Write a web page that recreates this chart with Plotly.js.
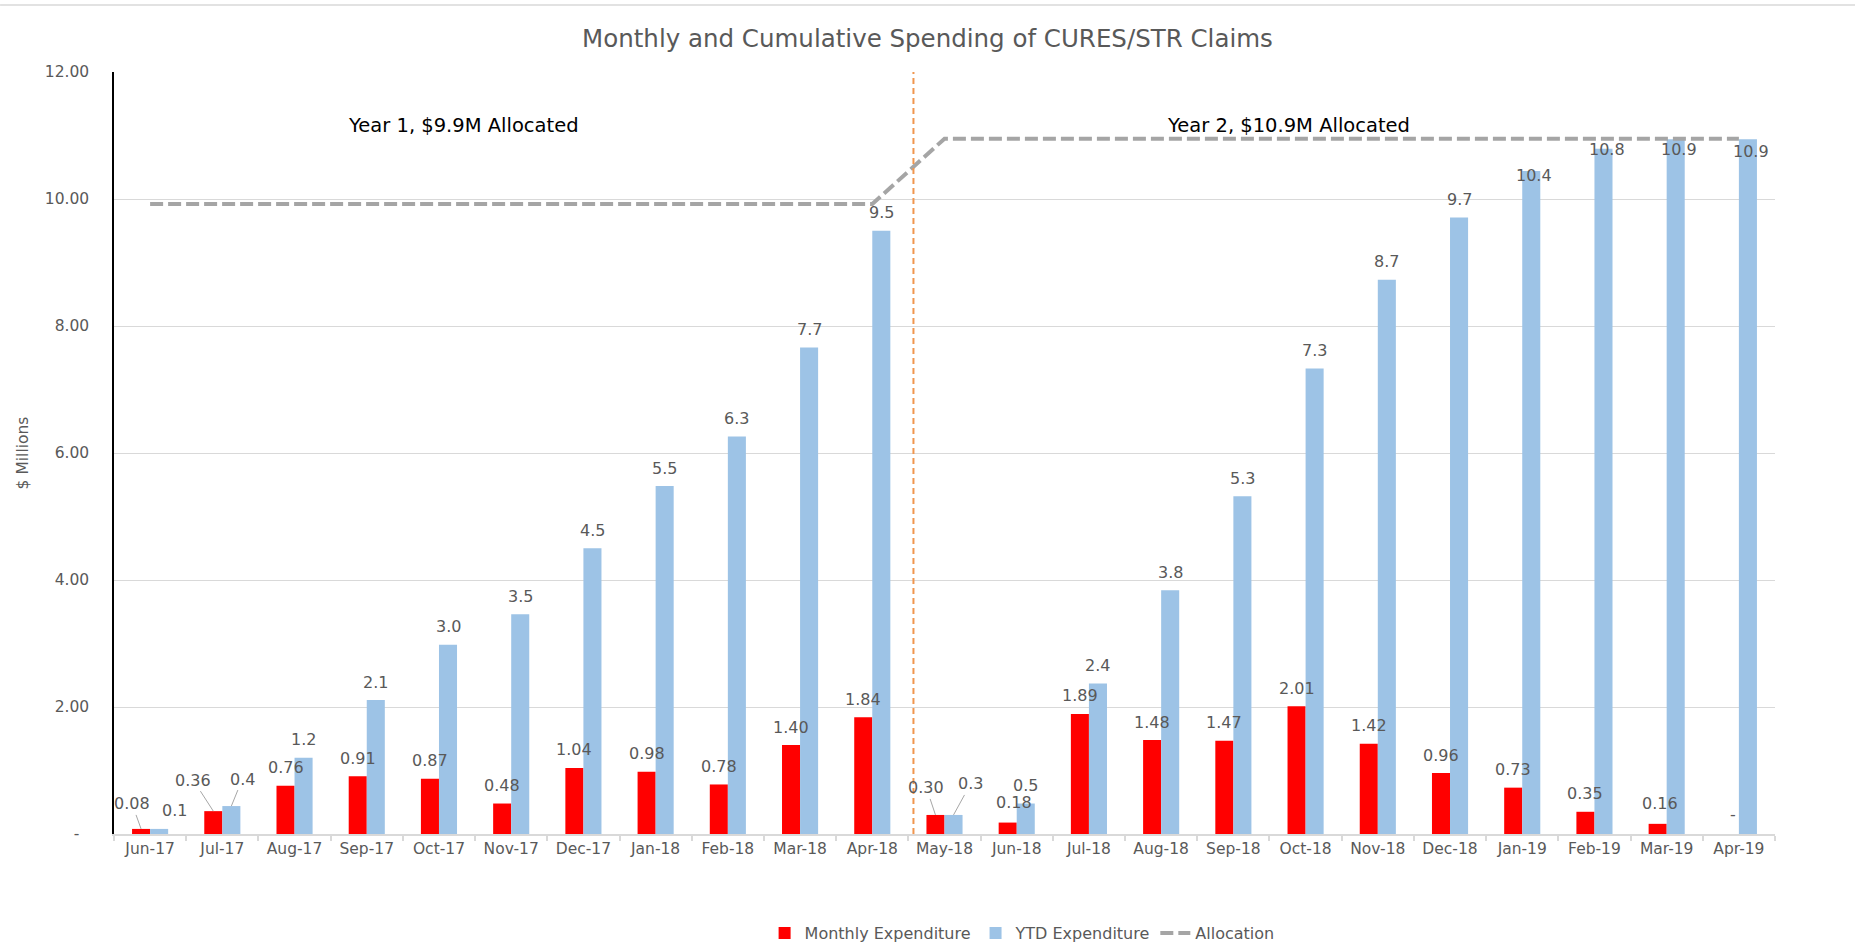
<!DOCTYPE html>
<html>
<head>
<meta charset="utf-8">
<script src="https://cdn.plot.ly/plotly-3.0.1.min.js"></script>
<style>
html,body{margin:0;padding:0;background:#ffffff;}
#chart{width:1855px;height:951px;}
</style>
</head>
<body>
<div id="chart"></div>
<script>
// ---- data ----
const months = ['Jun-17','Jul-17','Aug-17','Sep-17','Oct-17','Nov-17','Dec-17','Jan-18','Feb-18','Mar-18','Apr-18',
                'May-18','Jun-18','Jul-18','Aug-18','Sep-18','Oct-18','Nov-18','Dec-18','Jan-19','Feb-19','Mar-19','Apr-19'];
const monthlyExpenditure = [0.08,0.36,0.76,0.91,0.87,0.48,1.04,0.98,0.78,1.40,1.84,
                            0.30,0.18,1.89,1.48,1.47,2.01,1.42,0.96,0.73,0.35,0.16,0];
const ytdExpenditure = [0.08,0.44,1.20,2.11,2.98,3.46,4.50,5.48,6.26,7.66,9.50,
                        0.30,0.48,2.37,3.84,5.32,7.33,8.73,9.71,10.44,10.79,10.94,10.94];
const allocation = [9.92,9.92,9.92,9.92,9.92,9.92,9.92,9.92,9.92,9.92,9.92,
                    10.95,10.95,10.95,10.95,10.95,10.95,10.95,10.95,10.95,10.95,10.95,10.95];
const yTickVals = [0,2,4,6,8,10,12];
const yTickText = ['-\u00a0\u00a0','2.00','4.00','6.00','8.00','10.00','12.00'];
const yearNotes = ['Year 1, $9.9M Allocated','Year 2, $10.9M Allocated'];
const titleText = 'Monthly and Cumulative Spending of CURES/STR Claims';

// ---- styles ----
const FONT = 'DejaVu Sans';
const GREY_TXT = '#595959';
const labelFont = {family: FONT, size: 16, color: GREY_TXT};
const BAR_OFF = 0.125;
const DEFAULT_DY = -18;

// label placement tweaks (pixels), like the manual placement in the original
const redAdjust = {
  0: {dx:-9, dy:-25, arrow:true},
  1: {dx:-20, dy:-31, arrow:true},
  11:{dx:-9, dy:-27, arrow:true},
  12:{dx:6, dy:-20},
  21:{dx:2, dy:-20},
  22:{dx:3, dy:-20}
};
const blueAdjust = {
  0: {dx:15, dy:-18},
  1: {dx:11, dy:-27, arrow:true},
  11:{dx:17, dy:-31, arrow:true},
  19:{dx:3, dy:4},
  20:{dx:4, dy:1},
  21:{dx:3, dy:10},
  22:{dx:3, dy:12}
};

function makeLabel(i, v, side, txt, adj) {
  const a = adj || {dx:0, dy:DEFAULT_DY};
  const base = {x: i + side*BAR_OFF, y: v, xref:'x', yref:'y', text: txt, font: labelFont};
  if (a.arrow) {
    return Object.assign(base, {showarrow:true, arrowhead:0, arrowwidth:1, arrowcolor:'#A6A6A6',
      ax:a.dx, ay:a.dy, standoff:0, startstandoff:0});
  }
  return Object.assign(base, {showarrow:false, xshift:a.dx, yshift:-a.dy, xanchor:'center', yanchor:'middle'});
}

const annotations = [];
monthlyExpenditure.forEach((v,i) => {
  const txt = v === 0 ? '-' : v.toFixed(2);
  annotations.push(makeLabel(i, v, -1, txt, redAdjust[i]));
});
ytdExpenditure.forEach((v,i) => {
  annotations.push(makeLabel(i, v, 1, v.toFixed(1), blueAdjust[i]));
});
annotations.push({xref:'paper', yref:'paper', x:0.2107, y:0.930, text: yearNotes[0], showarrow:false,
  xanchor:'center', yanchor:'middle', font:{family:FONT, size:19.5, color:'#000000'}});
annotations.push({xref:'paper', yref:'paper', x:0.7074, y:0.930, text: yearNotes[1], showarrow:false,
  xanchor:'center', yanchor:'middle', font:{family:FONT, size:19.5, color:'#000000'}});

const traces = [
  {type:'bar', name:'Monthly Expenditure', x: months, y: monthlyExpenditure,
   marker:{color:'#FF0000'}, hoverinfo:'x+y'},
  {type:'bar', name:'YTD Expenditure', x: months, y: ytdExpenditure,
   marker:{color:'#9DC3E6'}, hoverinfo:'x+y'},
  {type:'scatter', mode:'lines', name:'Allocation', x: months, y: allocation,
   line:{color:'#A5A5A5', width:4, dash:'13px,5px'}, hoverinfo:'x+y'}
];

const layout = {
  width:1855, height:951, autosize:false,
  paper_bgcolor:'#ffffff', plot_bgcolor:'#ffffff',
  margin:{l:114, r:80, t:72, b:117, pad:0, autoexpand:false},
  title:{text:titleText, x:0.5, xref:'container', xanchor:'center',
         y:1-38/951, yref:'container', yanchor:'middle',
         font:{family:FONT, size:24.5, color:GREY_TXT}},
  barmode:'group', bargap:0.5, bargroupgap:0,
  showlegend:true,
  legend:{orientation:'h', xref:'container', yref:'container', x:0.551, xanchor:'center',
          y:1-933/951, yanchor:'middle',
          font:{family:FONT, size:16, color:GREY_TXT}, traceorder:'normal'},
  xaxis:{type:'category', categoryorder:'array', categoryarray:months, range:[-0.5,22.5],
         tickson:'boundaries', ticks:'outside', ticklen:5, tickcolor:'#D9D9D9', tickwidth:1.5,
         showline:true, linecolor:'#D9D9D9', linewidth:1.5, showgrid:false, zeroline:false,
         tickfont:{family:FONT, size:15.5, color:GREY_TXT}, fixedrange:true},
  yaxis:{range:[0,12], tickvals:yTickVals, ticktext:yTickText, ticks:'',
         showgrid:true, gridcolor:'#D9D9D9', gridwidth:1,
         showline:true, linecolor:'#000000', linewidth:1.5, zeroline:false,
         ticklabelstandoff:20,
         tickfont:{family:FONT, size:15.5, color:GREY_TXT},
         title:{text:'$ Millions', standoff:12, font:{family:FONT, size:15.5, color:GREY_TXT}},
         fixedrange:true},
  shapes:[
    {type:'line', xref:'x', yref:'paper', x0:10.57, x1:10.57, y0:0, y1:1,
     line:{color:'#F0964F', width:2, dash:'6px,4px'}},
    {type:'line', xref:'paper', yref:'paper', x0:-0.0686, x1:1.0482, y0:1.0879, y1:1.0879,
     line:{color:'#D9D9D9', width:1.5}}
  ],
  annotations: annotations
};

Plotly.newPlot('chart', traces, layout, {displayModeBar:false, responsive:false});
</script>
</body>
</html>
